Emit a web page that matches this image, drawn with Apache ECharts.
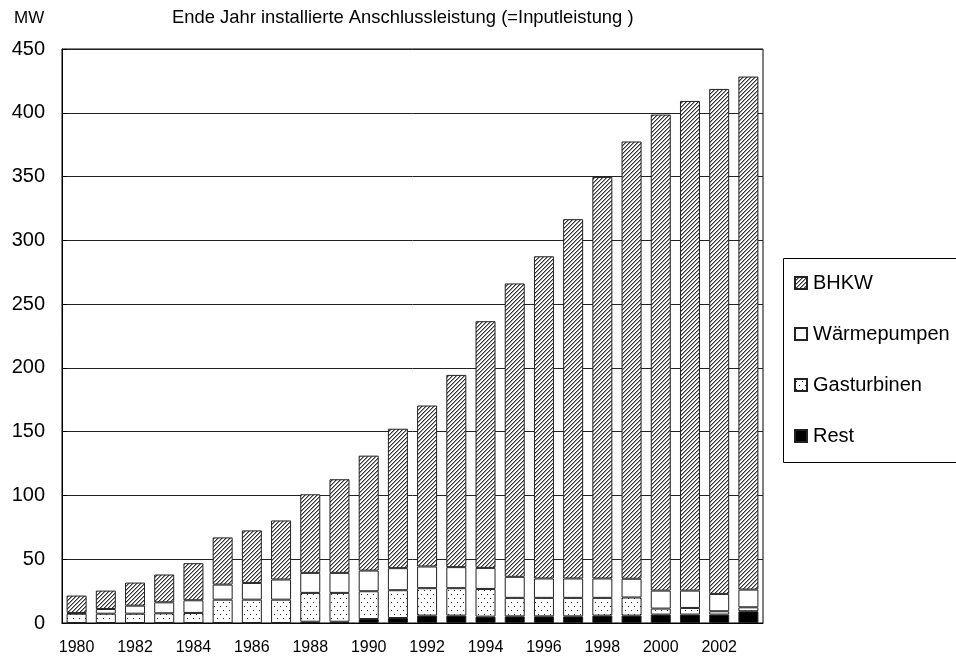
<!DOCTYPE html>
<html>
<head>
<meta charset="utf-8">
<script src="https://cdn.jsdelivr.net/npm/echarts@6/dist/echarts.min.js"></script>
<style>html,body{margin:0;padding:0;background:#fff}#c{width:956px;height:659px}</style>
</head>
<body>
<div id="c"></div>
<script>
// ---- data ----
var years = ['1980','1981','1982','1983','1984','1985','1986','1987','1988','1989','1990','1991','1992','1993','1994','1995','1996','1997','1998','1999','2000','2001','2002','2003'];
var rest = [0,0,0,0,0,0,0,0,1,1,3.1,3.9,5.8,5.8,5,5.2,5.2,5.2,5.8,5.8,6.6,6.6,6.6,9.2];
var gasturbinen = [7.3,7.3,7.3,7.6,7.9,18.3,18.3,18.3,22.6,22.6,21.8,21.8,21.5,21.5,21.7,14.5,14.5,14.5,13.9,14.2,4.7,5.2,2.6,3.1];
var waermepumpen = [0.6,3.7,6.3,8.6,9.9,11.8,13.1,15.8,15.7,15.7,16.2,17.3,17,16.5,16.5,16.5,15.2,15.2,15.2,14.7,14.1,13.6,13.6,13.9];
var bhkw = [13.6,14.4,18.1,21.8,29.1,37,41.2,46.3,61.6,73.4,90.1,109.3,126.2,150.7,193.4,230,252.6,281.7,314.8,342.8,373.2,383.9,395.9,402.2];
var yTicks = {min:0, max:450, interval:50};
var seriesNames = ['BHKW','Wärmepumpen','Gasturbinen','Rest'];

// ---- patterns ----
function hatch(){
  var n=4, c=document.createElement('canvas'); c.width=n; c.height=n;
  var g=c.getContext('2d'); g.fillStyle='#fff'; g.fillRect(0,0,n,n);
  g.fillStyle='#333';
  for(var x=0;x<n;x++)for(var y=0;y<n;y++){ if((x+y)%n===n-1) g.fillRect(x,y,1,1); }
  g.fillStyle='#999';
  for(var x=0;x<n;x++)for(var y=0;y<n;y++){ if((x+y)%n===0) g.fillRect(x,y,1,1); }
  return c;
}
function dots(){
  var w=6,h=8,c=document.createElement('canvas'); c.width=w; c.height=h;
  var g=c.getContext('2d'); g.fillStyle='#fff'; g.fillRect(0,0,w,h);
  g.fillStyle='#222'; g.fillRect(1,2,1,1); g.fillRect(4,6,1,1);
  return c;
}
var FONT='"Liberation Sans", Arial, sans-serif';
function mk(name,data,color){
  return {name:name,type:'bar',stack:'s',data:data,barWidth:20,
    itemStyle:{color:color,borderColor:'#222',borderWidth:1},
    emphasis:{disabled:true},animation:false};
}
var chart = echarts.init(document.getElementById('c'),null,{renderer:'canvas'});
chart.setOption({
  animation:false,
  backgroundColor:'#fff',
  textStyle:{fontFamily:FONT,color:'#000'},
  title:[
    {text:'MW',left:9,top:5,textStyle:{fontFamily:FONT,fontSize:17,fontWeight:'normal',color:'#000'}},
    {text:'Ende Jahr installierte Anschlussleistung (=Inputleistung )',left:167,top:4,textStyle:{fontFamily:FONT,fontSize:18.4,fontWeight:'normal',color:'#000'}}
  ],
  grid:{left:62,right:193,top:49,bottom:36,show:true,borderColor:'#000',borderWidth:1},
  legend:{orient:'vertical',left:789,top:268,itemWidth:12,itemHeight:12,itemGap:31,icon:'rect',
    data:seriesNames,textStyle:{fontFamily:FONT,fontSize:20,color:'#000',padding:[0,0,0,1]},
    selectedMode:false},
  graphic:[{type:'rect',shape:{x:783.5,y:258.5,width:200,height:204},style:{fill:'none',stroke:'#000',lineWidth:1},z:-1}],
  xAxis:{type:'category',data:years,
    axisLine:{lineStyle:{color:'#000'}},axisTick:{show:false},
    axisLabel:{interval:1,fontSize:16,color:'#000',margin:17,fontFamily:FONT}},
  yAxis:{type:'value',min:yTicks.min,max:yTicks.max,interval:yTicks.interval,
    axisLine:{show:true,lineStyle:{color:'#000'}},
    axisTick:{show:true,inside:true,length:5,lineStyle:{color:'#000'}},
    axisLabel:{fontSize:20,color:'#000',margin:17,fontFamily:FONT},
    splitLine:{lineStyle:{color:'#222',width:1}}},
  series:[
    mk('Rest',rest,'#000'),
    mk('Gasturbinen',gasturbinen,{image:dots(),repeat:'repeat'}),
    mk('Wärmepumpen',waermepumpen,'#fff'),
    mk('BHKW',bhkw,{image:hatch(),repeat:'repeat'})
  ]
});
</script>
</body>
</html>
